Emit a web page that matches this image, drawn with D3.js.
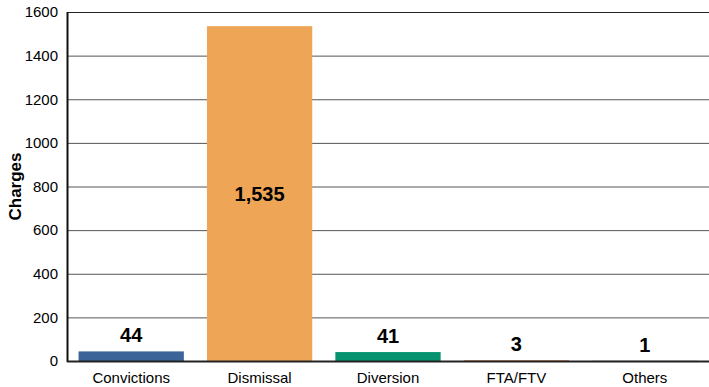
<!DOCTYPE html>
<html><head><meta charset="utf-8">
<script src="https://cdn.jsdelivr.net/npm/d3@7"></script>
<style>body{margin:0;background:#fff}svg{display:block}</style>
</head><body>
<script>
const categories = ["Convictions","Dismissal","Diversion","FTA/FTV","Others"];
const values = [44,1535,41,3,1];
const labels = ["44","1,535","41","3","1"];
const colors = ["#3b6598","#eea555","#07936f","#d0703c","#888888"];
const yTicks = [0,200,400,600,800,1000,1200,1400,1600];

const W=709,H=387, m={l:67,r:0,t:12,b:26};
const svg=d3.select("body").append("svg").attr("width",W).attr("height",H);
const x=d3.scaleBand().domain(categories).range([m.l,W-m.r]).paddingInner(0.18).paddingOuter(0.09);
const y=d3.scaleLinear().domain([0,1600]).range([H-m.b,m.t]);
const font="Liberation Sans, Arial, sans-serif";

// gridlines
svg.append("g").selectAll("line").data(yTicks).join("line")
 .attr("x1",m.l).attr("x2",W).attr("y1",d=>y(d)+0.5).attr("y2",d=>y(d)+0.5)
 .attr("stroke",d=>d===1600?"#222":"#555").attr("stroke-width",1);

// bars
svg.append("g").selectAll("rect").data(values).join("rect")
 .attr("x",(d,i)=>x(categories[i])).attr("width",x.bandwidth())
 .attr("y",d=>y(d)).attr("height",d=>y(0)-y(d))
 .attr("fill",(d,i)=>colors[i]);

// value labels
svg.append("g").selectAll("text").data(values).join("text")
 .attr("x",(d,i)=>x(categories[i])+x.bandwidth()/2)
 .attr("y",(d,i)=> d>500 ? (y(d)+y(0))/2+7 : y(d)-9)
 .attr("text-anchor","middle").attr("font-family",font).attr("font-weight","bold").attr("font-size",20)
 .text((d,i)=>labels[i]);

// y axis
const ya=svg.append("g").attr("transform",`translate(${m.l},0)`)
 .call(d3.axisLeft(y).tickValues(yTicks).tickSize(0).tickPadding(9).tickFormat(d3.format("d")));
ya.select(".domain").remove();
ya.selectAll("text").attr("font-family",font).attr("font-size",15).attr("fill","#000");
svg.append("line").attr("x1",m.l+0.5).attr("x2",m.l+0.5).attr("y1",m.t).attr("y2",y(0)+1).attr("stroke","#111").attr("stroke-width",2);
svg.append("line").attr("x1",m.l).attr("x2",W).attr("y1",y(0)+0.5).attr("y2",y(0)+0.5).attr("stroke","#222").attr("stroke-width",2);

// x axis labels
const xa=svg.append("g").attr("transform",`translate(0,${y(0)})`).call(d3.axisBottom(x).tickSize(0).tickPadding(11));
xa.select(".domain").remove();
xa.selectAll("text").attr("font-family",font).attr("font-size",15).attr("fill","#000");

svg.append("text").attr("transform",`translate(21,${(m.t+y(0))/2}) rotate(-90)`)
 .attr("text-anchor","middle").attr("font-family",font).attr("font-weight","bold").attr("font-size",17).text("Charges");
</script>
</body></html>
